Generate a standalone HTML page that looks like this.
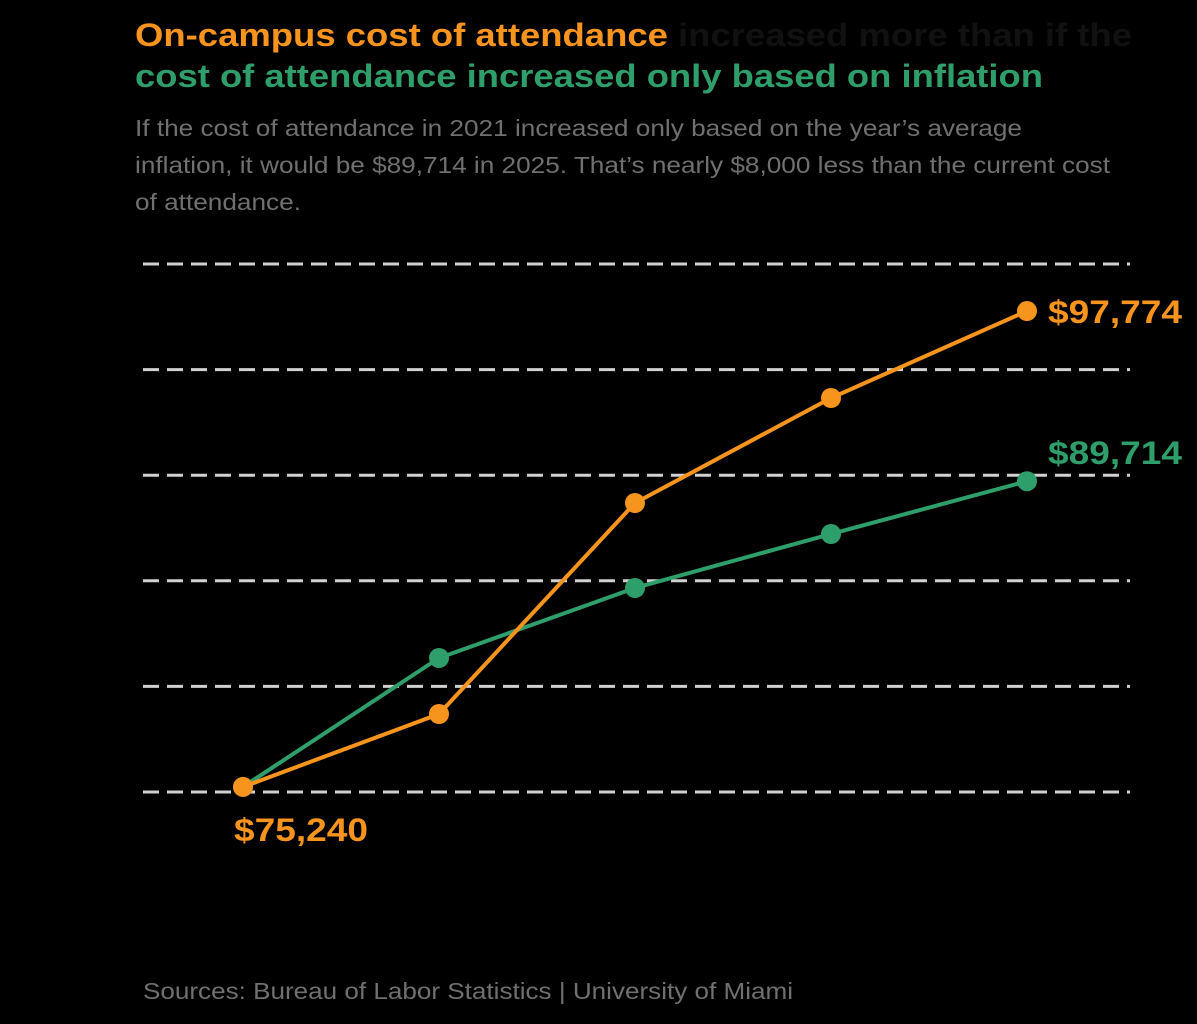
<!DOCTYPE html>
<html><head><meta charset="utf-8"><style>
body{margin:0;background:#000;width:1197px;height:1019px;overflow:hidden;font-family:"Liberation Sans",Arial,sans-serif}
</style></head><body>
<svg width="1197" height="1019">
<rect width="1197" height="1019" fill="#000"/>
<text x="135" y="46" font-size="32" font-weight="bold" textLength="997" lengthAdjust="spacingAndGlyphs"><tspan fill="#f7941d">On-campus cost of attendance</tspan><tspan fill="#111"> increased more than if the</tspan></text>
<text x="135" y="87" font-size="32" font-weight="bold" fill="#2e9e6a" textLength="908" lengthAdjust="spacingAndGlyphs">cost of attendance increased only based on inflation</text>
<g font-size="23" fill="#707070">
<text x="135" y="136" textLength="887" lengthAdjust="spacingAndGlyphs">If the cost of attendance in 2021 increased only based on the year’s average</text>
<text x="135" y="173" textLength="975" lengthAdjust="spacingAndGlyphs">inflation, it would be $89,714 in 2025. That’s nearly $8,000 less than the current cost</text>
<text x="135" y="210" textLength="166" lengthAdjust="spacingAndGlyphs">of attendance.</text>
</g>
<g id="grid"></g>
<g id="lines"></g>
<text x="143" y="999" font-size="23" fill="#707070" textLength="650" lengthAdjust="spacingAndGlyphs">Sources: Bureau of Labor Statistics | University of Miami</text>
</svg>
<script>
const years=[2021,2022,2023,2024,2025];
const onCampus=[75240,78693,88684,93655,97774];
const inflation=[75240,81345,84659,87216,89714];
const ticks=[75000,80000,85000,90000,95000,100000];
const NS="http://www.w3.org/2000/svg";
const x=i=>243+i*196;
const y=v=>792-(v-75000)/25000*528;
function mk(tag,a,p){const e=document.createElementNS(NS,tag);for(const k in a)e.setAttribute(k,a[k]);p.appendChild(e);return e;}
const grid=document.getElementById('grid');
ticks.forEach(t=>{const l=mk('line',{x1:143,x2:1130,y1:y(t),y2:y(t),stroke:'#d0d0d0','stroke-width':3,'stroke-dasharray':'16 8'},grid);

});
const lg=document.getElementById('lines');
function series(vals,col,name){
 const p=mk('polyline',{points:vals.map((v,i)=>x(i)+','+y(v)).join(' '),fill:'none',stroke:col,'stroke-width':4},lg);
 
 
 vals.forEach((v,i)=>{const c=mk('circle',{cx:x(i),cy:y(v),r:10,fill:col},lg);
 
 });
}
series(inflation,'#2e9e6a','inflation');
series(onCampus,'#f7941d','on-campus');
function lab(txt,xx,yy,col,name){const t=mk('text',{x:xx,y:yy,fill:col,'font-size':32,'font-weight':'bold',textLength:134,lengthAdjust:'spacingAndGlyphs'},lg);t.textContent=txt;

}
lab('$97,774',1048,y(onCampus[4])+12,'#f7941d','end-label-on-campus');
lab('$89,714',1048,y(inflation[4])-17,'#2e9e6a','end-label-inflation');
lab('$75,240',234,841,'#f7941d','start-label');
</script>
</body></html>
